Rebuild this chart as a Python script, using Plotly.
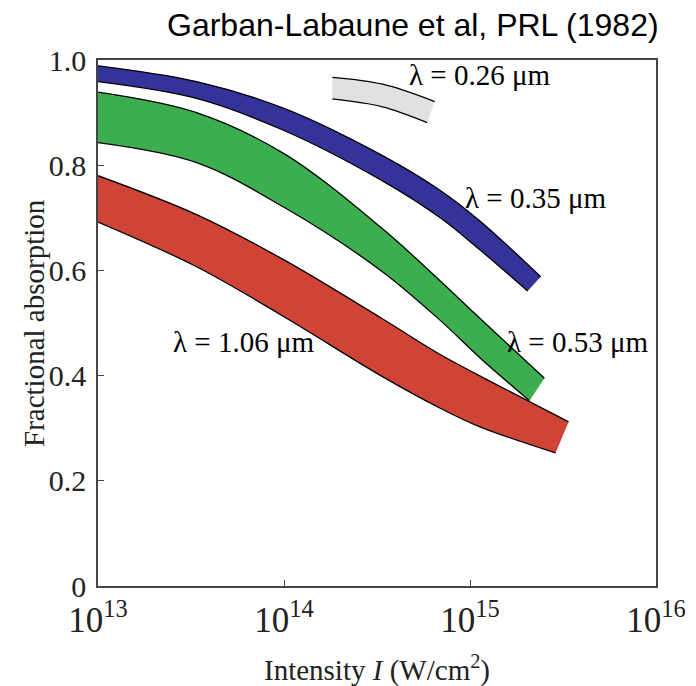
import plotly.graph_objects as go

# log10(I) positions and fractional absorption values
b035_up_x = [13.0, 13.53, 14.0, 14.52, 14.84, 15.05, 15.38]
b035_up_y = [0.989, 0.959, 0.908, 0.820, 0.752, 0.695, 0.588]
b035_lo_x = [13.0, 13.53, 14.0, 14.52, 14.84, 15.05, 15.31]
b035_lo_y = [0.959, 0.927, 0.866, 0.772, 0.700, 0.640, 0.561]

b053_up_x = [13.0, 13.53, 14.0, 14.52, 14.84, 15.05, 15.40]
b053_up_y = [0.939, 0.900, 0.822, 0.682, 0.580, 0.510, 0.395]
b053_lo_x = [13.0, 13.53, 14.0, 14.52, 14.84, 15.05, 15.32]
b053_lo_y = [0.843, 0.805, 0.720, 0.600, 0.505, 0.435, 0.352]

b106_up_x = [13.0, 13.53, 14.0, 14.52, 14.84, 15.05, 15.53]
b106_up_y = [0.780, 0.706, 0.620, 0.510, 0.440, 0.400, 0.312]
b106_lo_x = [13.0, 13.53, 14.0, 14.52, 14.84, 15.05, 15.46]
b106_lo_y = [0.692, 0.607, 0.512, 0.400, 0.338, 0.303, 0.253]

b026_up_x = [14.26, 14.53, 14.81]
b026_up_y = [0.967, 0.954, 0.921]
b026_lo_x = [14.26, 14.53, 14.77]
b026_lo_y = [0.926, 0.911, 0.881]

bands = [
    ("λ = 0.26 μm", b026_up_x, b026_up_y, b026_lo_x, b026_lo_y, "#e1e1e1"),
    ("λ = 0.35 μm", b035_up_x, b035_up_y, b035_lo_x, b035_lo_y, "#333399"),
    ("λ = 0.53 μm", b053_up_x, b053_up_y, b053_lo_x, b053_lo_y, "#3dae50"),
    ("λ = 1.06 μm", b106_up_x, b106_up_y, b106_lo_x, b106_lo_y, "#cf4436"),
]

labels = ["λ = 0.26 μm", "λ = 0.35 μm", "λ = 0.53 μm", "λ = 1.06 μm"]
label_x = [15.05, 15.35, 15.58, 13.78]
label_y = [0.971, 0.738, 0.464, 0.464]

x_tickvals = [1e13, 1e14, 1e15, 1e16]
x_ticktext = ["10<sup>13</sup>", "10<sup>14</sup>", "10<sup>15</sup>", "10<sup>16</sup>"]
y_tickvals = [0, 0.2, 0.4, 0.6, 0.8, 1.0]
y_ticktext = ["0", "0.2", "0.4", "0.6", "0.8", "1.0"]

SERIF = "Liberation Serif, Times New Roman, serif"

fig = go.Figure()
for name, ux, uy, lx, ly, col in bands:
    fig.add_trace(go.Scatter(
        x=[10 ** v for v in lx], y=ly, mode="lines",
        line=dict(color="black", width=1.3, shape="spline", smoothing=1.0),
        showlegend=False, hoverinfo="skip"))
    fig.add_trace(go.Scatter(
        x=[10 ** v for v in ux], y=uy, mode="lines",
        line=dict(color="black", width=1.3, shape="spline", smoothing=1.0),
        fill="tonexty", fillcolor=col, name=name,
        showlegend=False, hoverinfo="skip"))

for t, lx_, ly_ in zip(labels, label_x, label_y):
    fig.add_annotation(x=lx_, y=ly_, xref="x", yref="y", text=t, showarrow=False,
                       font=dict(family=SERIF, size=29, color="black"),
                       xanchor="center", yanchor="middle")

fig.add_annotation(x=1 + 5 / 558, y=1 + 35 / 526, xref="paper", yref="paper",
                   text="Garban-Labaune et al, PRL (1982)", showarrow=False,
                   font=dict(family="Liberation Sans, Arial, sans-serif", size=32, color="black"),
                   xanchor="right", yanchor="middle")

fig.add_annotation(x=0.5, y=-82 / 526, xref="paper", yref="paper",
                   text="Intensity <i>I</i> (W/cm<sup>2</sup>)", showarrow=False,
                   font=dict(family=SERIF, size=29, color="#222"),
                   xanchor="center", yanchor="middle")
fig.add_annotation(x=-64 / 558, y=0.5, xref="paper", yref="paper",
                   text="Fractional absorption", showarrow=False, textangle=-90,
                   font=dict(family=SERIF, size=29, color="#222"),
                   xanchor="center", yanchor="middle")

fig.update_layout(
    width=696, height=686,
    margin=dict(l=98, r=40, t=60, b=100),
    paper_bgcolor="white", plot_bgcolor="white",
    showlegend=False,
)
fig.update_xaxes(type="log", range=[13, 16], tickvals=x_tickvals, ticktext=x_ticktext,
                 ticks="inside", ticklen=6, tickcolor="#444", showgrid=False, zeroline=False,
                 showline=True, linecolor="#444", linewidth=1.5, mirror=True,
                 automargin=False, ticklabelstandoff=2,
                 tickfont=dict(family=SERIF, size=35, color="#222"))
fig.update_yaxes(range=[0, 1], tickvals=y_tickvals, ticktext=y_ticktext,
                 ticks="inside", ticklen=6, tickcolor="#444", showgrid=False, zeroline=False,
                 showline=True, linecolor="#444", linewidth=1.5, mirror=True,
                 automargin=False, ticklabelstandoff=4,
                 tickfont=dict(family=SERIF, size=30, color="#222"))

fig.write_html("out.html")
